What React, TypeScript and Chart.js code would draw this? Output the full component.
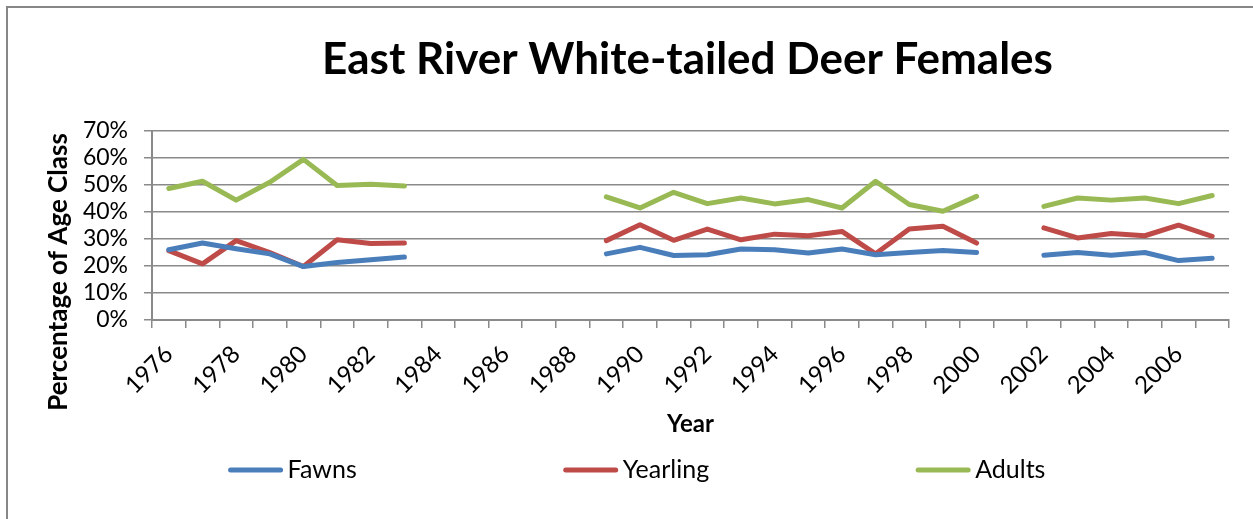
import React, { useEffect, useRef } from 'react';
import { Chart, registerables } from 'chart.js';

Chart.register(...registerables);

const years: string[] = [
  '1976', '1977', '1978', '1979', '1980', '1981', '1982', '1983', '1984', '1985', '1986',
  '1987', '1988', '1989', '1990', '1991', '1992', '1993', '1994', '1995', '1996', '1997',
  '1998', '1999', '2000', '2001', '2002', '2003', '2004', '2005', '2006', '2007',
];

const fawns: (number | null)[] = [
  26.0, 28.5, 26.4, 24.5, 19.8, 21.3, 22.3, 23.3,
  null, null, null, null, null,
  24.5, 26.9, 23.9, 24.2, 26.3, 26.0, 24.8, 26.3, 24.2, 25.0, 25.7, 25.0,
  null,
  24.0, 25.0, 24.0, 25.0, 22.0, 22.9,
];

const yearlings: (number | null)[] = [
  25.7, 20.8, 29.4, 25.0, 19.8, 29.7, 28.3, 28.5,
  null, null, null, null, null,
  29.4, 35.3, 29.5, 33.7, 29.7, 31.8, 31.2, 32.8, 24.5, 33.7, 34.7, 28.5,
  null,
  34.1, 30.4, 32.0, 31.2, 35.1, 31.0,
];

const adults: (number | null)[] = [
  48.7, 51.4, 44.4, 51.0, 59.5, 49.8, 50.3, 49.6,
  null, null, null, null, null,
  45.6, 41.5, 47.3, 43.1, 45.2, 43.0, 44.6, 41.5, 51.4, 42.8, 40.3, 45.8,
  null,
  42.1, 45.2, 44.4, 45.2, 43.1, 46.1,
];

const seriesNames = ['Fawns', 'Yearling', 'Adults'];
const seriesColors = ['#4A7EBB', '#BE4B48', '#98B954'];
const chartTitle = 'East River White-tailed Deer Females';
const yAxisTitle = 'Percentage of Age Class';
const xAxisTitle = 'Year';

const FONT = 'Lato, "Open Sans", "DejaVu Sans", sans-serif';
const GRID = '#8a8a8a';

const framePlugin = {
  id: 'frame',
  beforeDraw(chart: any) {
    const ctx = chart.ctx;
    ctx.save();
    ctx.fillStyle = '#ffffff';
    ctx.fillRect(0, 0, chart.width, chart.height);
    ctx.strokeStyle = '#878787';
    ctx.lineWidth = 2;
    ctx.beginPath();
    ctx.moveTo(7, chart.height);
    ctx.lineTo(7, 7);
    ctx.lineTo(chart.width, 7);
    ctx.stroke();
    ctx.restore();
  },
};

const titlePlugin = {
  id: 'customTitle',
  afterDraw(chart: any) {
    const ctx = chart.ctx;
    const area = chart.chartArea;
    ctx.save();
    ctx.font = `bold 44px ${FONT}`;
    ctx.fillStyle = '#000000';
    ctx.textAlign = 'center';
    ctx.textBaseline = 'alphabetic';
    ctx.fillText(chartTitle, (area.left + area.right) / 2 - 3, 74);
    // vertical axis title
    ctx.font = `bold 26px ${FONT}`;
    ctx.textBaseline = 'middle';
    ctx.translate(59, 272);
    ctx.rotate(-Math.PI / 2);
    ctx.fillText(yAxisTitle, 0, 0);
    ctx.restore();
  },
};

const legendPlugin = {
  id: 'customLegend',
  afterDraw(chart: any) {
    const ctx = chart.ctx;
    ctx.save();
    ctx.font = `25px ${FONT}`;
    const lineLen = 54;
    const textGap = 5;
    const itemGap = 207;
    const items = chart.data.datasets.map((ds: any) => ({
      label: ds.label as string,
      color: ds.borderColor as string,
      w: ctx.measureText(ds.label).width,
    }));
    const total =
      items.reduce((s: number, it: any) => s + lineLen + textGap + it.w, 0) +
      itemGap * (items.length - 1);
    let x = 637 - total / 2;
    const y = 470;
    items.forEach((it: any) => {
      ctx.strokeStyle = it.color;
      ctx.lineWidth = 5;
      ctx.lineCap = 'round';
      ctx.beginPath();
      ctx.moveTo(x + 2, y);
      ctx.lineTo(x + lineLen - 2, y);
      ctx.stroke();
      ctx.fillStyle = '#000000';
      ctx.textAlign = 'left';
      ctx.textBaseline = 'middle';
      ctx.fillText(it.label, x + lineLen + textGap, y);
      x += lineLen + textGap + it.w + itemGap;
    });
    ctx.restore();
  },
};

export default function App() {
  const canvasRef = useRef<HTMLCanvasElement | null>(null);

  useEffect(() => {
    if (!canvasRef.current) return;
    const seriesData = [fawns, yearlings, adults];
    const chart = new Chart(canvasRef.current, {
      type: 'line',
      data: {
        labels: years,
        datasets: seriesNames.map((name, i) => ({
          label: name,
          data: seriesData[i],
          borderColor: seriesColors[i],
          backgroundColor: seriesColors[i],
          borderWidth: 5,
          borderJoinStyle: 'round',
          borderCapStyle: 'round',
          pointRadius: 0,
          pointHoverRadius: 0,
          tension: 0,
          spanGaps: false,
          fill: false,
        })),
      },
      options: {
        responsive: false,
        animation: false,
        devicePixelRatio: 1,
        layout: { padding: { left: 30, right: 24, top: 131, bottom: 70 } },
        plugins: {
          legend: { display: false },
          title: { display: false },
          tooltip: { enabled: false },
        },
        scales: {
          x: {
            type: 'category',
            offset: true,
            afterFit: (scale: any) => {
              scale.height = 129;
            },
            grid: {
              offset: true,
              drawOnChartArea: false,
              drawTicks: true,
              tickLength: 8,
              color: GRID,
              lineWidth: 1.5,
            },
            border: { display: true, color: GRID, width: 2 },
            ticks: {
              autoSkip: false,
              maxRotation: 45,
              minRotation: 45,
              padding: 12,
              color: '#000000',
              font: { family: FONT, size: 24 },
              callback: (_v: any, idx: number) => (idx % 2 === 0 ? years[idx] : ''),
            },
            title: {
              display: true,
              text: xAxisTitle,
              color: '#000000',
              font: { family: FONT, size: 24, weight: 'bold' },
              padding: { top: 0, bottom: 10 },
            },
          },
          y: {
            min: 0,
            max: 70,
            afterFit: (scale: any) => {
              scale.width = 122;
            },
            grid: {
              color: GRID,
              lineWidth: 1.5,
              drawTicks: true,
              tickLength: 8,
            },
            border: { display: true, color: GRID, width: 2 },
            ticks: {
              stepSize: 10,
              autoSkip: false,
              padding: 16,
              color: '#000000',
              font: { family: FONT, size: 23 },
              callback: (v: any) => `${v}%`,
            },
            title: { display: false },
          },
        },
      },
      plugins: [framePlugin, titlePlugin, legendPlugin],
    } as any);
    return () => chart.destroy();
  }, []);

  return (
    <div style={{ position: 'absolute', left: 0, top: 0, width: 1253, height: 519 }}>
      <canvas ref={canvasRef} width={1253} height={519} />
    </div>
  );
}
